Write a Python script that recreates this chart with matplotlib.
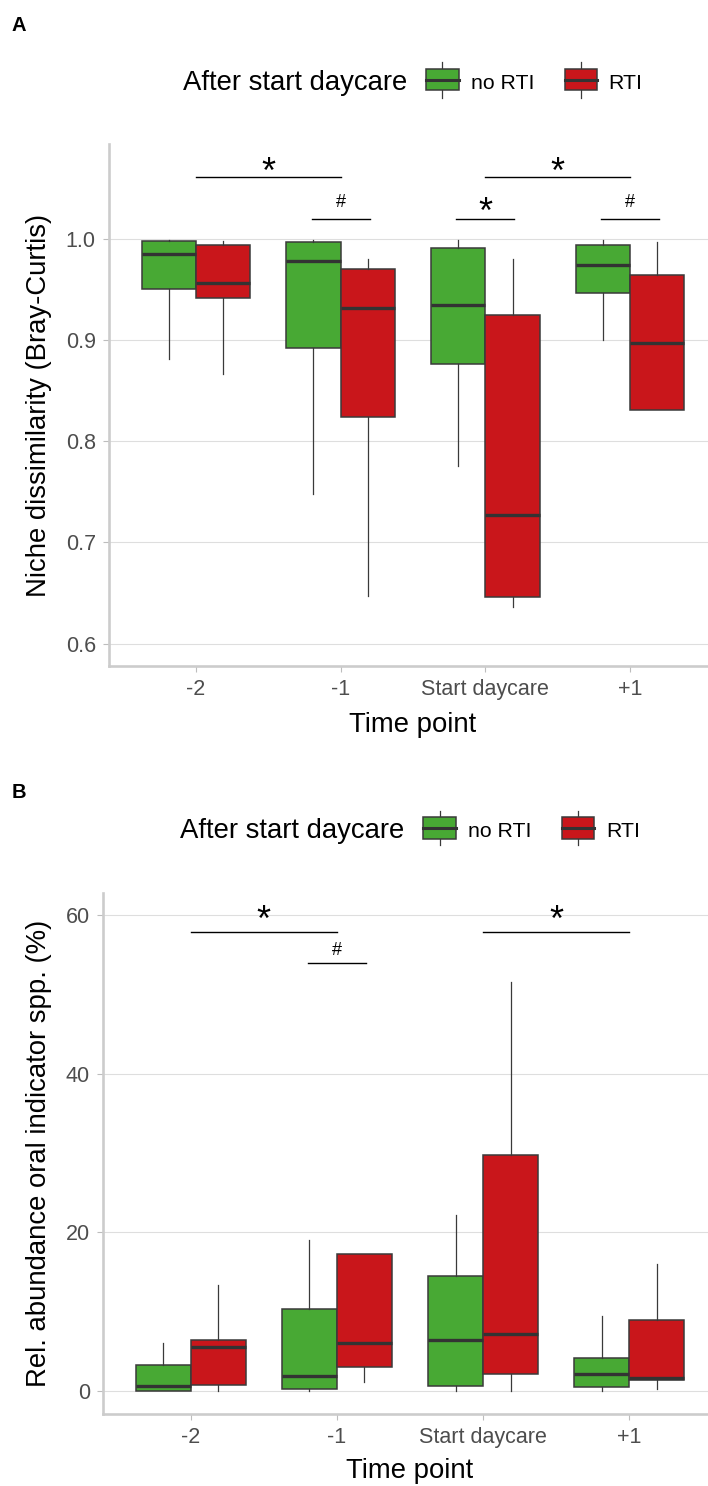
import matplotlib
matplotlib.use('Agg')
import matplotlib.pyplot as plt
from matplotlib.patches import Rectangle
from matplotlib.lines import Line2D

W, H, DPI = 708, 1486, 100
plt.rcParams['font.family'] = ['Liberation Sans', 'DejaVu Sans']

# ---------------- data ----------------
timepoints = ['-2', '-1', 'Start daycare', '+1']
groups = ['no RTI', 'RTI']
group_colors = ['#48A934', '#C9161B']

# five-number summaries per time point: [whisker low, Q1, median, Q3, whisker high]
nicheA_noRTI = [[0.881, 0.951, 0.985, 0.998, 0.999],
                [0.748, 0.892, 0.978, 0.997, 0.999],
                [0.776, 0.876, 0.935, 0.991, 0.999],
                [0.900, 0.947, 0.974, 0.994, 0.999]]
nicheA_RTI = [[0.867, 0.942, 0.957, 0.994, 0.998],
              [0.647, 0.824, 0.932, 0.970, 0.980],
              [0.636, 0.646, 0.727, 0.925, 0.980],
              [0.831, 0.831, 0.897, 0.964, 0.997]]

oralB_noRTI = [[0.0, 0.0, 0.67, 3.3, 6.0],
               [0.0, 0.2, 1.85, 10.3, 19.0],
               [0.0, 0.6, 6.4, 14.5, 22.2],
               [0.0, 0.5, 2.1, 4.2, 9.5]]
oralB_RTI = [[0.0, 0.7, 5.6, 6.4, 13.3],
             [1.1, 3.0, 6.1, 17.3, 17.3],
             [0.0, 2.2, 7.2, 29.8, 51.5],
             [0.3, 1.4, 1.7, 9.0, 16.0]]

# significance brackets: x from, x to (category positions), bar height, label, label centre
sigA_x1 = [1, 1.8, 2.8, 3, 3.8]
sigA_x2 = [2, 2.2, 3.2, 4, 4.2]
sigA_y = [1.061, 1.020, 1.020, 1.061, 1.020]
sigA_lab = ['*', '#', '*', '*', '#']
sigA_labely = [1.076, 1.038, 1.036, 1.076, 1.038]

sigB_x1 = [1, 1.8, 3]
sigB_x2 = [2, 2.2, 4]
sigB_y = [57.9, 53.9, 57.9]
sigB_lab = ['*', '#', '*']
sigB_labely = [60.6, 55.8, 60.6]

yticksA = [0.6, 0.7, 0.8, 0.9, 1.0]
yticksA_lab = ['0.6', '0.7', '0.8', '0.9', '1.0']
yticksB = [0, 20, 40, 60]
yticksB_lab = ['0', '20', '40', '60']

# ---------------- helpers ----------------
fig = plt.figure(figsize=(W / DPI, H / DPI), dpi=DPI)


def fx(px):
    return px / W


def fy(py):
    return 1 - py / H


def make_ax(left, right, top, bottom):
    return fig.add_axes([fx(left), fy(bottom), fx(right) - fx(left), fy(top) - fy(bottom)])


def draw_boxes(ax, series_list):
    n = len(series_list)
    width = 0.375
    for gi, (series, col) in enumerate(zip(series_list, group_colors)):
        offs = (gi - (n - 1) / 2) * width
        stats = []
        for s in series:
            stats.append(dict(whislo=s[0], q1=s[1], med=s[2], q3=s[3], whishi=s[4], fliers=[]))
        pos = [i + 1 + offs for i in range(len(series))]
        ax.bxp(stats, positions=pos, widths=width, patch_artist=True, showcaps=False,
               showfliers=False, manage_ticks=False,
               boxprops=dict(facecolor=col, edgecolor='#3a3a3a', linewidth=1.1),
               medianprops=dict(color='#333333', linewidth=2.4, solid_capstyle='butt'),
               whiskerprops=dict(color='#3a3a3a', linewidth=0.9))


def style_ax(ax, ylim, yticks, ylabs):
    ax.set_xlim(0.4, 4.6)
    ax.set_ylim(*ylim)
    ax.set_xticks(range(1, len(timepoints) + 1))
    ax.set_xticklabels(timepoints)
    ax.set_yticks(yticks)
    ax.set_yticklabels(ylabs)
    ax.set_axisbelow(True)
    ax.grid(axis='y', color='#dedede', linewidth=0.8)
    ax.grid(axis='x', visible=False)
    for sp in ['top', 'right']:
        ax.spines[sp].set_visible(False)
    for sp in ['left', 'bottom']:
        ax.spines[sp].set_color('#cccccc')
        ax.spines[sp].set_linewidth(1.9)
    ax.tick_params(axis='both', colors='#bdbdbd', length=4.5, width=0.8,
                   labelcolor='#4d4d4d', labelsize=15.5, pad=5)


def draw_sig(ax, x1s, x2s, ys, labs, labys):
    for x1, x2, y, lab, ly in zip(x1s, x2s, ys, labs, labys):
        ax.plot([x1, x2], [y, y], color='black', linewidth=1.0, clip_on=False)
        if lab == '*':
            size, frac = 26, 0.575
        else:
            size, frac = 13, 0.35
        ax.annotate(lab, ((x1 + x2) / 2, ly), xytext=(0, -frac * size), textcoords='offset points',
                    ha='center', va='baseline', fontsize=size, color='black', annotation_clip=False)


def draw_legend(title_left, baseline, key_lefts, key_top, key_bottom, whisk_top, whisk_bottom, label_lefts):
    fig.text(fx(title_left), fy(baseline), 'After start daycare', fontsize=19.8,
             ha='left', va='baseline', color='black')
    kw = 32.6
    for kl, col, lab, ll in zip(key_lefts, group_colors, groups, label_lefts):
        cx = kl + kw / 2
        fig.add_artist(Line2D([fx(cx), fx(cx)], [fy(whisk_top), fy(whisk_bottom)],
                              transform=fig.transFigure, color='#3a3a3a', linewidth=0.9, zorder=1))
        fig.add_artist(Rectangle((fx(kl), fy(key_bottom)), fx(kl + kw) - fx(kl),
                                 fy(key_top) - fy(key_bottom), transform=fig.transFigure,
                                 facecolor=col, edgecolor='#3a3a3a', linewidth=1.1, zorder=2))
        mid = (key_top + key_bottom) / 2
        fig.add_artist(Line2D([fx(kl), fx(kl + kw)], [fy(mid), fy(mid)], transform=fig.transFigure,
                              color='#333333', linewidth=2.2, zorder=3))
        fig.text(fx(ll), fy(baseline - 1), lab, fontsize=15.3, ha='left', va='baseline', color='black')


# ---------------- panel A ----------------
axA = make_ax(109, 717, 144, 665.8)
style_ax(axA, (0.578, 1.094), yticksA, yticksA_lab)
draw_boxes(axA, [nicheA_noRTI, nicheA_RTI])
draw_sig(axA, sigA_x1, sigA_x2, sigA_y, sigA_lab, sigA_labely)

fig.text(fx(12), fy(31), 'A', fontsize=14.5, fontweight='bold', ha='left', va='baseline')
draw_legend(183.3, 90, [426, 564.7], 69, 90.3, 62, 97.7, [471, 608.7])
fig.text(fx(46), fy(405), 'Niche dissimilarity (Bray-Curtis)', fontsize=19.8, rotation=90,
         rotation_mode='anchor', ha='center', va='baseline', color='black')
fig.text(fx(413), fy(731.6), 'Time point', fontsize=19.8, ha='center', va='baseline', color='black')

# ---------------- panel B ----------------
axB = make_ax(103, 717, 892.7, 1414)
style_ax(axB, (-2.9, 62.8), yticksB, yticksB_lab)
draw_boxes(axB, [oralB_noRTI, oralB_RTI])
draw_sig(axB, sigB_x1, sigB_x2, sigB_y, sigB_lab, sigB_labely)

fig.text(fx(12), fy(798), 'B', fontsize=14.5, fontweight='bold', ha='left', va='baseline')
draw_legend(180, 838.3, [423.3, 561.7], 817.3, 839.3, 810.7, 845.3, [467.7, 606])
fig.text(fx(46), fy(1153), 'Rel. abundance oral indicator spp. (%)', fontsize=19.8, rotation=90,
         rotation_mode='anchor', ha='center', va='baseline', color='black')
fig.text(fx(410), fy(1478), 'Time point', fontsize=19.8, ha='center', va='baseline', color='black')

fig.savefig('out.png', dpi=DPI, facecolor='white')
